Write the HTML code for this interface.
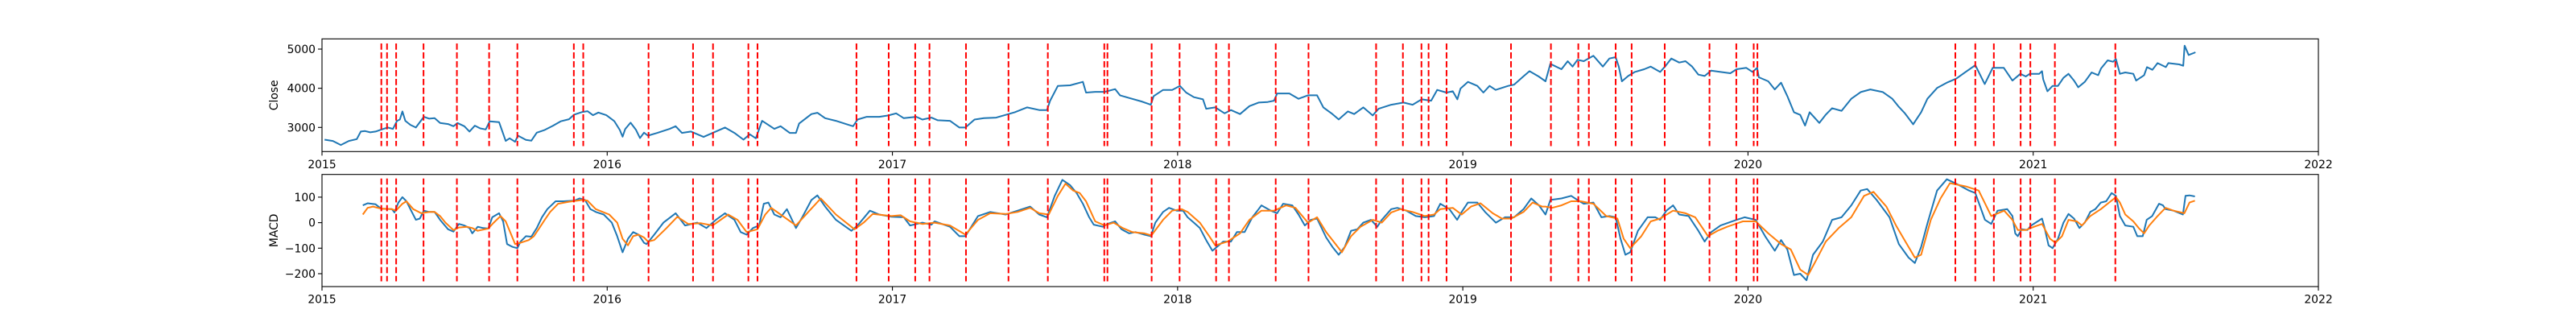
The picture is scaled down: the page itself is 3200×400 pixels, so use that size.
<!DOCTYPE html>
<html><head><meta charset="utf-8">
<style>
html,body{margin:0;padding:0;background:#fff;}
svg{display:block;font-family:"DejaVu Sans","Liberation Sans",sans-serif;}
</style></head>
<body>
<svg id="chart" width="3200" height="400" viewBox="0 0 3200 400" xmlns="http://www.w3.org/2000/svg"></svg>
<script>
// ---- data (dates as fractional years) ----
const closeT=[2015.009,2015.038,2015.066,2015.094,2015.122,2015.136,2015.151,2015.169,2015.188,2015.207,2015.230,2015.249,2015.263,2015.273,2015.282,2015.292,2015.310,2015.329,2015.357,2015.376,2015.395,2015.414,2015.442,2015.461,2015.475,2015.499,2015.517,2015.536,2015.555,2015.574,2015.588,2015.621,2015.644,2015.658,2015.677,2015.687,2015.715,2015.734,2015.753,2015.781,2015.809,2015.837,2015.866,2015.884,2015.913,2015.931,2015.950,2015.969,2015.997,2016.025,2016.044,2016.054,2016.063,2016.082,2016.101,2016.115,2016.129,
2016.143,2016.176,2016.219,2016.240,2016.262,2016.294,2016.338,2016.370,2016.413,2016.446,2016.478,2016.500,2016.521,2016.543,2016.586,2016.608,2016.640,2016.662,2016.673,2016.716,2016.737,2016.764,2016.802,2016.846,2016.862,2016.878,2016.910,2016.954,2016.986,2017.013,2017.040,2017.084,2017.105,2017.137,2017.159,2017.202,2017.235,2017.256,2017.288,2017.321,2017.364,2017.407,2017.429,2017.472,2017.515,2017.542,2017.553,2017.580,2017.623,
2017.668,2017.679,2017.711,2017.744,2017.781,2017.798,2017.830,2017.873,2017.906,2017.916,2017.949,2017.981,2018.008,2018.030,2018.057,2018.089,2018.100,2018.132,2018.165,2018.187,2018.219,2018.252,2018.284,2018.316,2018.338,2018.349,2018.392,2018.424,2018.457,2018.489,2018.511,2018.543,2018.565,2018.597,2018.619,2018.651,2018.684,2018.705,2018.749,2018.792,2018.824,2018.856,2018.889,2018.910,2018.943,2018.965,2018.981,2018.992,2019.018,2019.051,2019.072,2019.094,2019.115,2019.159,2019.180,2019.212,2019.234,2019.266,
2019.290,2019.307,2019.346,2019.368,2019.385,2019.402,2019.424,2019.458,2019.491,2019.514,2019.536,2019.547,2019.558,2019.580,2019.603,2019.636,2019.659,2019.692,2019.709,2019.731,2019.759,2019.781,2019.804,2019.826,2019.848,2019.871,2019.904,2019.938,2019.960,2019.994,2020.016,2020.032,2020.038,2020.071,2020.094,2020.116,2020.138,2020.161,2020.183,2020.200,2020.216,2020.250,2020.272,2020.295,2020.328,2020.362,2020.395,2020.429,2020.473,2020.506,2020.529,2020.551,2020.579,2020.607,2020.629,2020.663,2020.697,2020.730,2020.763,2020.797,2020.830,2020.858,2020.897,
2020.927,2020.955,2020.974,2020.988,2021.021,2021.031,2021.035,2021.050,2021.068,2021.087,2021.106,2021.124,2021.143,2021.158,2021.181,2021.205,2021.228,2021.238,2021.261,2021.280,2021.290,2021.304,2021.323,2021.351,2021.361,2021.389,2021.399,2021.418,2021.436,2021.465,2021.474,2021.512,2021.526,2021.531,2021.545,2021.569];
const closeV=[2688,2654,2551,2654,2702,2894,2908,2874,2894,2942,2997,2963,3168,3202,3408,3168,3065,2997,3271,3223,3237,3113,3086,3031,3113,3031,2894,3045,2976,2949,3155,3134,2654,2723,2634,2791,2681,2661,2867,2936,3038,3155,3209,3326,3394,3415,3312,3381,3312,3161,2935,2763,2956,3120,2935,2729,2866,
2791,2860,2963,3031,2860,2894,2757,2860,2997,2860,2688,2825,2723,3168,2963,3031,2860,2860,3100,3340,3374,3237,3168,3065,3031,3202,3271,3271,3305,3360,3237,3271,3202,3250,3182,3168,2997,2997,3202,3237,3250,3340,3388,3511,3443,3443,3683,4060,4074,
4163,3889,3909,3909,3978,3820,3752,3663,3580,3800,3957,3957,4060,3889,3772,3717,3477,3511,3360,3443,3340,3545,3635,3649,3683,3868,3868,3731,3820,3820,3511,3340,3203,3408,3340,3511,3305,3477,3580,3635,3580,3717,3683,3957,3889,3923,3717,3992,4163,4060,3889,4060,3957,4060,4094,4300,4437,4300,
4177,4623,4485,4691,4554,4726,4691,4829,4554,4760,4794,4554,4177,4314,4417,4485,4554,4417,4554,4760,4657,4691,4554,4348,4314,4451,4417,4383,4485,4520,4417,4520,4280,4177,3971,4143,3800,3389,3320,3046,3389,3114,3320,3491,3423,3731,3903,3971,3903,3731,3526,3354,3080,3389,3731,4006,4143,4246,4417,4588,4108,4520,4520,
4197,4369,4300,4369,4369,4437,4232,3923,4060,4060,4266,4369,4197,4026,4163,4403,4334,4506,4712,4677,4746,4369,4403,4369,4197,4334,4540,4472,4643,4540,4643,4609,4574,5089,4849,4918];
const macdT=[2015.143,2015.160,2015.188,2015.207,2015.245,2015.254,2015.268,2015.282,2015.296,2015.310,2015.329,2015.343,2015.357,2015.376,2015.395,2015.414,2015.442,2015.461,2015.480,2015.499,2015.517,2015.527,2015.546,2015.565,2015.583,2015.597,2015.621,2015.635,2015.649,2015.668,2015.685,2015.696,2015.715,2015.734,2015.753,2015.771,2015.790,2015.819,2015.847,2015.884,2015.903,2015.922,2015.941,2015.960,2015.988,2016.016,2016.035,2016.054,2016.073,2016.091,2016.110,2016.129,
2016.138,2016.165,2016.197,2016.240,2016.273,2016.316,2016.348,2016.381,2016.413,2016.446,2016.468,2016.489,2016.511,2016.533,2016.549,2016.565,2016.586,2016.608,2016.630,2016.662,2016.684,2016.716,2016.737,2016.764,2016.802,2016.856,2016.878,2016.921,2016.954,2016.997,2017.040,2017.062,2017.105,2017.137,2017.148,2017.202,2017.235,2017.256,2017.300,2017.343,2017.397,2017.439,2017.483,2017.515,2017.542,2017.569,2017.596,2017.623,
2017.646,2017.668,2017.690,2017.706,2017.738,2017.754,2017.781,2017.803,2017.830,2017.852,2017.884,2017.906,2017.922,2017.949,2017.970,2017.997,2018.019,2018.035,2018.057,2018.078,2018.100,2018.122,2018.138,2018.160,2018.187,2018.208,2018.235,2018.262,2018.284,2018.294,2018.327,2018.349,2018.370,2018.402,2018.424,2018.446,2018.467,2018.489,2018.521,2018.543,2018.565,2018.586,2018.608,2018.630,2018.651,2018.678,2018.700,2018.716,2018.749,2018.770,2018.802,2018.835,2018.867,2018.899,2018.921,2018.953,2018.980,2018.996,2019.018,2019.051,2019.078,2019.116,2019.148,2019.180,2019.213,2019.240,2019.267,
2019.290,2019.307,2019.346,2019.380,2019.402,2019.424,2019.458,2019.486,2019.514,2019.536,2019.553,2019.570,2019.587,2019.614,2019.648,2019.675,2019.692,2019.714,2019.737,2019.759,2019.792,2019.826,2019.848,2019.871,2019.904,2019.960,2019.988,2020.027,2020.060,2020.094,2020.116,2020.138,2020.161,2020.183,2020.205,2020.228,2020.262,2020.295,2020.328,2020.362,2020.395,2020.418,2020.451,2020.496,2020.529,2020.563,2020.585,2020.607,2020.630,2020.663,2020.697,2020.730,2020.775,2020.797,2020.831,2020.853,2020.875,2020.909,
2020.927,2020.937,2020.946,2020.960,2020.979,2020.993,2021.031,2021.040,2021.054,2021.068,2021.087,2021.106,2021.124,2021.143,2021.162,2021.181,2021.200,2021.218,2021.237,2021.256,2021.275,2021.290,2021.304,2021.323,2021.351,2021.365,2021.384,2021.398,2021.417,2021.441,2021.455,2021.464,2021.492,2021.525,2021.534,2021.548,2021.567];
const macdV=[68,76,72,55,53,40,79,100,84,53,11,16,47,42,42,11,-26,-35,-5,-11,-21,-42,-16,-21,-23,21,37,5,-84,-95,-100,-74,-53,-55,-21,21,53,84,84,86,95,89,53,42,32,0,-53,-116,-63,-37,-47,-79,
-84,-47,0,37,-11,0,-21,11,37,11,-37,-47,-21,-11,74,79,32,21,53,-21,21,89,107,63,11,-32,-11,47,32,23,21,-11,0,-8,5,-16,-53,-53,26,42,32,47,63,32,21,105,168,147,
116,74,21,-8,-16,-5,5,-26,-42,-37,-47,-53,0,42,58,47,47,21,0,-21,-68,-110,-95,-74,-74,-37,-37,21,53,68,47,37,74,68,32,-11,11,16,-58,-95,-126,-95,-32,-26,0,11,-16,11,53,58,47,26,21,26,74,53,11,42,79,79,42,0,21,21,53,95,68,
32,89,95,105,89,74,79,21,26,21,-63,-126,-116,-32,21,21,11,47,68,32,26,-32,-74,-37,-11,11,21,11,-53,-110,-68,-105,-205,-200,-226,-126,-74,11,21,68,126,132,89,21,-84,-137,-158,-95,0,126,170,153,126,116,11,-5,47,53,
26,-42,-53,-26,-29,-11,16,-21,-89,-100,-63,0,34,16,-21,0,42,53,79,84,116,105,26,-11,-16,-53,-53,11,26,74,68,53,47,32,105,107,103];
const sigT=[2015.143,2015.160,2015.179,2015.207,2015.245,2015.259,2015.282,2015.296,2015.320,2015.348,2015.376,2015.395,2015.414,2015.433,2015.461,2015.480,2015.508,2015.527,2015.546,2015.583,2015.602,2015.626,2015.644,2015.658,2015.677,2015.696,2015.725,2015.743,2015.762,2015.781,2015.800,2015.828,2015.866,2015.913,2015.931,2015.960,2016.007,2016.035,2016.054,2016.073,2016.091,2016.110,2016.129,
2016.143,2016.165,2016.208,2016.246,2016.284,2016.327,2016.370,2016.424,2016.457,2016.489,2016.527,2016.554,2016.575,2016.608,2016.662,2016.705,2016.749,2016.802,2016.867,2016.899,2016.931,2016.997,2017.029,2017.062,2017.105,2017.148,2017.202,2017.256,2017.300,2017.343,2017.397,2017.439,2017.483,2017.515,2017.548,2017.580,2017.607,2017.634,
2017.657,2017.679,2017.711,2017.744,2017.776,2017.808,2017.841,2017.884,2017.908,2017.949,2017.981,2018.014,2018.035,2018.078,2018.111,2018.132,2018.175,2018.219,2018.252,2018.294,2018.338,2018.381,2018.413,2018.457,2018.489,2018.521,2018.565,2018.576,2018.608,2018.641,2018.684,2018.716,2018.749,2018.781,2018.824,2018.867,2018.899,2018.921,2018.965,2018.996,2019.029,2019.062,2019.105,2019.137,2019.170,2019.213,2019.245,2019.278,
2019.290,2019.313,2019.346,2019.380,2019.413,2019.458,2019.503,2019.542,2019.564,2019.587,2019.626,2019.659,2019.692,2019.737,2019.781,2019.815,2019.860,2019.893,2019.927,2019.982,2020.027,2020.071,2020.116,2020.150,2020.183,2020.211,2020.239,2020.273,2020.318,2020.362,2020.407,2020.440,2020.485,2020.519,2020.552,2020.585,2020.607,2020.641,2020.675,2020.708,2020.764,2020.809,2020.853,2020.898,
2020.927,2020.946,2020.974,2021.003,2021.031,2021.059,2021.078,2021.101,2021.124,2021.153,2021.171,2021.200,2021.237,2021.266,2021.290,2021.304,2021.323,2021.351,2021.370,2021.389,2021.407,2021.436,2021.464,2021.492,2021.530,2021.548,2021.567];
const sigV=[32,58,63,55,53,47,74,84,53,37,42,42,26,0,-29,-19,-16,-21,-32,-23,0,26,5,-32,-84,-79,-68,-53,-21,11,42,74,82,89,86,53,32,0,-63,-89,-53,-47,-58,
-74,-68,-21,23,-5,-2,-11,32,11,-37,-26,32,58,32,-11,42,95,32,-26,0,34,26,29,5,-5,0,-11,-47,11,37,34,42,58,37,32,105,153,126,
116,84,5,-11,0,-21,-37,-42,-50,11,47,53,42,0,-53,-89,-74,-42,11,47,47,68,58,0,21,-37,-100,-116,-53,-16,11,0,40,53,42,26,32,53,58,32,63,76,37,16,16,42,79,63,
63,58,68,84,84,74,26,16,-63,-100,-53,5,16,47,37,21,-53,-32,-16,5,5,-42,-84,-105,-184,-205,-147,-74,-21,21,105,121,63,-11,-74,-137,-126,11,95,155,142,126,26,47,
11,-29,-29,-16,-5,-63,-79,-53,11,5,-11,26,53,79,100,79,32,5,-21,-42,-11,26,58,47,37,79,86];
const signalDates=[2015.208,2015.228,2015.260,2015.356,2015.473,2015.586,2015.685,2015.883,2015.916,2016.145,2016.301,2016.371,2016.495,2016.527,2016.874,2016.987,2017.080,2017.130,2017.258,2017.407,2017.545,2017.743,2017.754,2017.909,2018.007,2018.135,2018.180,2018.344,2018.459,2018.696,2018.790,2018.855,2018.880,2018.943,2019.169,2019.309,2019.405,2019.442,2019.536,2019.592,2019.708,2019.865,2019.959,2020.020,2020.033,2020.727,2020.797,2020.862,2020.956,2020.990,2021.076,2021.288];
const yearTicks=[2015,2016,2017,2018,2019,2020,2021,2022];
const closeTicks=[3000,4000,5000];
const macdTicks=[-200,-100,0,100];

// ---- layout ----
const NS="http://www.w3.org/2000/svg";
const svg=document.getElementById('chart');
const X0=400,X1=2880;
const xs=t=>X0+(t-2015)/(2022-2015)*(X1-X0);
const panels=[
 {top:48.3,bot:188.3,vmin:2383,vmax:5261,lineTop:54,lineBot:181.5,ticks:closeTicks,label:'Close',name:'close'},
 {top:216.7,bot:356,vmin:-250.5,vmax:189,lineTop:221.7,lineBot:349.5,ticks:macdTicks,label:'MACD',name:'macd'}];
function mk(tag,attrs,parent){const e=document.createElementNS(NS,tag);for(const k in attrs)e.setAttribute(k,attrs[k]);(parent||svg).appendChild(e);return e;}
function ysc(p){return v=>p.bot-(v-p.vmin)/(p.vmax-p.vmin)*(p.bot-p.top);}
function pathFrom(T,V,ys){let d='';for(let i=0;i<T.length;i++){d+=(i?'L':'M')+xs(T[i]).toFixed(1)+','+ys(V[i]).toFixed(1);}return d;}

panels.forEach((p,pi)=>{
 const ys=ysc(p);
 const g=mk('g',{});
 
 
 // series
 if(pi===0){
  const l=mk('path',{d:pathFrom(closeT,closeV,ys),fill:'none',stroke:'#1f77b4','stroke-width':2,'stroke-linejoin':'round'},g);
  
  
 } else {
  const l=mk('path',{d:pathFrom(macdT,macdV,ys),fill:'none',stroke:'#1f77b4','stroke-width':2,'stroke-linejoin':'round'},g);
  
  
  const s=mk('path',{d:pathFrom(sigT,sigV,ys),fill:'none',stroke:'#ff7f0e','stroke-width':2,'stroke-linejoin':'round'},g);
  
  
 }
 // signal vlines
 signalDates.forEach(t=>{
  const v=mk('line',{x1:xs(t),x2:xs(t),y1:p.lineTop,y2:p.lineBot,stroke:'#ff0000','stroke-width':2,'stroke-dasharray':'7.7,3.3'},g);
  
  
 });
 // frame
 const f=mk('rect',{x:X0,y:p.top,width:X1-X0,height:p.bot-p.top,fill:'none',stroke:'#000','stroke-width':1.1},g);
 
 
 // y ticks
 p.ticks.forEach(v=>{
  const y=ys(v);
  const tk=mk('line',{x1:X0-5,x2:X0,y1:y,y2:y,stroke:'#000','stroke-width':1.1},g);
  
  
  const tx=mk('text',{x:X0-8,y:y+5,'text-anchor':'end','font-size':'13.9px',fill:'#000'},g);
  tx.textContent=(v<0?'\u2212'+Math.abs(v):String(v));
  
  
 });
 // x ticks
 yearTicks.forEach(yr=>{
  const x=xs(yr);
  const tk=mk('line',{x1:x,x2:x,y1:p.bot,y2:p.bot+5,stroke:'#000','stroke-width':1.1},g);
  
  
  const tx=mk('text',{x:x,y:p.bot+20.5,'text-anchor':'middle','font-size':'13.9px',fill:'#000'},g);
  tx.textContent=String(yr);
  
  
 });
 // y label
 const cy=(p.top+p.bot)/2;
 const yl=mk('text',{x:0,y:0,'text-anchor':'middle','font-size':'13.9px',fill:'#000',transform:'translate(345,'+cy+') rotate(-90)'},g);
 yl.textContent=p.label;
 
 
});
</script>
</body></html>
